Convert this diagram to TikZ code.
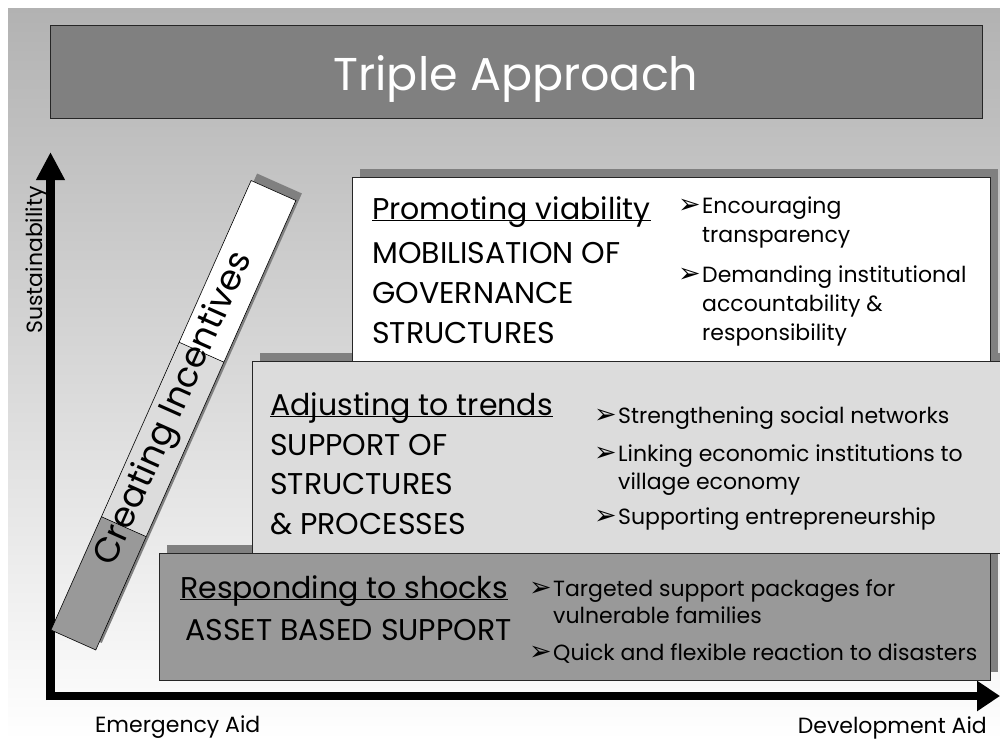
\documentclass[tikz,border=0pt]{standalone}
\usepackage{fontspec}
\setmainfont{Poppins}
\newfontfamily\arrowfont{DejaVu Sans}
\usetikzlibrary{positioning,arrows.meta,shadows}
\definecolor{bgtop}{RGB}{178,178,178}
\definecolor{titlegray}{RGB}{128,128,128}
\definecolor{shadegray}{RGB}{128,128,128}
\definecolor{paleboxgray}{RGB}{220,220,220}
\definecolor{midboxgray}{RGB}{153,153,153}
\newcommand{\ttlfont}{\fontsize{46}{54}\selectfont}
\newcommand{\boxheadfont}{\fontsize{30}{36}\selectfont}
\newcommand{\bulletfont}{\fontsize{22}{26}\selectfont}
\newcommand{\axisfont}{\fontsize{22}{26}\selectfont}
\newcommand{\barfont}{\fontsize{35}{41}\selectfont}
\newcommand{\headul}[1]{\underline{\smash{#1}}}
\newcommand{\arr}{{\arrowfont\fontsize{27}{30}\selectfont\symbol{"27A2}}}

\begin{document}
\begin{tikzpicture}[x=1pt,y=-1pt]
          \tikzstyle{pbox} = [draw=black!85, line width=0.8pt, anchor=north west, inner sep=0pt]
          \tikzstyle{shadowed} = [drop shadow={shadow xshift=8pt, shadow yshift=8pt, fill=shadegray, opacity=1}]
          \tikzstyle{hnode} = [inner sep=0pt, anchor=base west, font=\boxheadfont]
          \tikzstyle{inode} = [inner sep=0pt, anchor=base west, font=\bulletfont]
          \tikzstyle{anode} = [inner sep=0pt, anchor=base east, font=\bulletfont]
          \useasboundingbox (0,0) rectangle (1000,740);
          \shade[top color=bgtop, bottom color=white] (8,8) rectangle (1000,740);

          \node[pbox, fill=titlegray, minimum width=932pt, minimum height=93pt] (title) at (50,25) {};
          \node[font=\ttlfont, text=white, inner sep=0pt, anchor=base] (ttl) at (516,90) {Triple Approach};

          % axes
          \coordinate (orig) at (50.5,696);
          \coordinate (ytip) at (50.5,152);
          \coordinate (xtip) at (1000,696);
          \draw[line width=9pt, -{Triangle[width=27pt,length=28pt]}] ([yshift=-4pt]orig) -- (ytip);
          \draw[line width=8pt, -{Triangle[width=29pt,length=23pt]}] ([xshift=-4.5pt]orig) -- (xtip);
          \node[font=\axisfont, rotate=90, anchor=base, inner sep=0pt] (ylab) at (42,260) {Sustainability};
          \node[font=\axisfont, anchor=base west, inner sep=0pt] (xlab1) at (95,732) {Emergency Aid};
          \node[font=\axisfont, anchor=base east, inner sep=0pt] (xlab2) at (987,733) {Development Aid};

          % slanted bar
          \begin{scope}[shift={(57,623)}, rotate=66]
            \fill[shadegray] (0,0) rectangle (492,49);
          \end{scope}
          \begin{scope}[shift={(51,630)}, rotate=66]
            \fill[midboxgray] (0,0) rectangle (124,49);
            \fill[paleboxgray] (124,0) rectangle (315,49);
            \fill[white] (315,0) rectangle (492,49);
            \draw[line width=0.6pt] (0,0) rectangle (492,49) (124,0) -- (124,49) (315,0) -- (315,49);
            \node[font=\barfont, rotate=66, anchor=base, inner sep=0pt] (incent) at (252,32) {Creating Incentives};
          \end{scope}

          \node[pbox, shadowed, fill=midboxgray, minimum width=831pt, minimum height=127pt] (shock) at (159,553) {};
          \node[pbox, shadowed, fill=paleboxgray, minimum width=760pt, minimum height=192pt] (trend) at (252,361) {};
          \node[pbox, shadowed, fill=white, minimum width=638pt, minimum height=184pt] (viab) at (352,177) {};

          % promoting viability
          \node[hnode] (viabh) at (372,219) {\headul{Promoting viability}};
          \node[hnode, below=44pt of viabh.base west, anchor=base west] (viab1) {MOBILISATION OF};
          \node[hnode, below=40pt of viab1.base west, anchor=base west] (viab2) {GOVERNANCE};
          \node[hnode, below=40pt of viab2.base west, anchor=base west] (viab3) {STRUCTURES};
          \node[inode] (enc) at (702,213) {Encouraging};
          \node[anode, left=1pt of enc.base west, anchor=base east] (enca) {\arr};
          \node[inode, below=29pt of enc.base west, anchor=base west] (enc2) {transparency};
          \node[inode, below=40pt of enc2.base west, anchor=base west] (dem) {Demanding institutional};
          \node[anode, left=1pt of dem.base west, anchor=base east] (dema) {\arr};
          \node[inode, below=29pt of dem.base west, anchor=base west] (dem2) {accountability \&};
          \node[inode, below=29pt of dem2.base west, anchor=base west] (dem3) {responsibility};

          % adjusting to trends
          \node[hnode] (trendh) at (270,415) {\headul{Adjusting to trends}};
          \node[hnode, below=40pt of trendh.base west, anchor=base west] (trend1) {SUPPORT OF};
          \node[hnode, below=39pt of trend1.base west, anchor=base west] (trend2) {STRUCTURES};
          \node[hnode, below=40pt of trend2.base west, anchor=base west] (trend3) {\& PROCESSES};
          \node[inode] (net) at (618,423) {Strengthening social networks};
          \node[anode, left=1pt of net.base west, anchor=base east] (neta) {\arr};
          \node[inode, below=38pt of net.base west, anchor=base west] (link) {Linking economic institutions to};
          \node[anode, left=1pt of link.base west, anchor=base east] (linka) {\arr};
          \node[inode, below=28pt of link.base west, anchor=base west] (link2) {village economy};
          \node[inode, below=35pt of link2.base west, anchor=base west] (entr) {Supporting entrepreneurship};
          \node[anode, left=1pt of entr.base west, anchor=base east] (entra) {\arr};

          % responding to shocks
          \node[hnode] (shockh) at (180,598) {\headul{Responding to shocks}};
          \node[hnode, below=42pt of shockh.base west, anchor=base west, xshift=5pt] (shock1) {ASSET BASED SUPPORT};
          \node[inode] (targ) at (553,596) {Targeted support packages for};
          \node[anode, left=1pt of targ.base west, anchor=base east] (targa) {\arr};
          \node[inode, below=27pt of targ.base west, anchor=base west] (targ2) {vulnerable families};
          \node[inode, below=37pt of targ2.base west, anchor=base west] (quick) {Quick and flexible reaction to disasters};
          \node[anode, left=1pt of quick.base west, anchor=base east] (quicka) {\arr};
        \end{tikzpicture}
\end{document}
